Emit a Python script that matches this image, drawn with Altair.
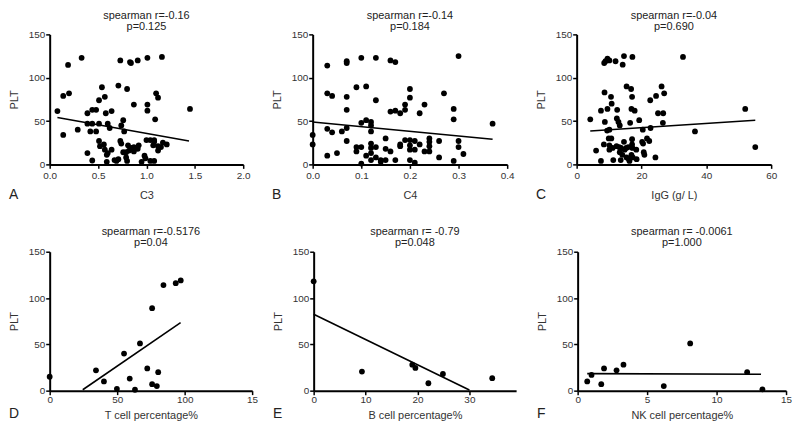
import altair as alt
import pandas as pd

FONT = "Liberation Sans"

# ---------------- data ----------------
a_x = [0.08, 0.19, 0.14, 0.20, 0.33, 0.14, 0.29, 0.39, 0.44, 0.48, 0.39, 0.44, 0.51, 0.42, 0.48,
       0.39, 0.44, 0.51, 0.54, 0.57, 0.58, 0.64, 0.60, 0.62, 0.51, 0.52, 0.56, 0.57, 0.59, 0.60,
       0.64, 0.59, 0.67, 0.69, 0.71, 0.71, 0.73, 0.80, 0.76, 0.74, 0.77, 0.73, 0.74, 0.76, 0.79,
       0.81, 0.82, 0.79, 0.80, 0.83, 0.84, 0.91, 0.87, 0.85, 0.87, 0.87, 0.91, 0.92, 0.95, 0.98,
       0.99, 1.01, 1.01, 1.01, 1.00, 1.04, 1.08, 1.07, 1.08, 1.04, 1.08, 1.09, 1.10, 1.12, 1.12,
       1.12, 1.15, 1.17, 1.21, 1.16, 1.45]
a_y = [61.5, 114.7, 79, 82, 123, 34, 40, 59, 63, 63, 47, 47, 47, 38, 38,
       13, 4.5, 74, 89, 78, 59, 61.5, 47, 42, 27, 21, 23, 17, 11, 13,
       17, 3, 5, 4, 6, 91, 120, 87, 51, 45, 38, 27, 24, 14, 14,
       22, 16, 8, 4, 118, 117, 120, 69, 19, 20, 15, 18, 22, 3, 10,
       7, 123, 69, 62, 28, 28, 28, 22, 26, 4, 4, 52, 82, 77, 16,
       21, 20, 25, 23, 124, 64]
a_fit_x = [0.08, 1.44]
a_fit_y = [54, 27]

b_x = [0.0, 0.0, 0.03, 0.03, 0.04, 0.03, 0.04, 0.03, 0.05, 0.06, 0.07, 0.07, 0.07, 0.07, 0.07,
       0.07, 0.09, 0.11, 0.10, 0.13, 0.13, 0.10, 0.11, 0.12, 0.12, 0.12, 0.09, 0.10, 0.09, 0.11,
       0.10, 0.12, 0.12, 0.12, 0.13, 0.12, 0.13, 0.14, 0.15, 0.14, 0.15, 0.15, 0.16, 0.17, 0.16,
       0.17, 0.18, 0.19, 0.19, 0.16, 0.17, 0.18, 0.18, 0.19, 0.20, 0.20, 0.20, 0.20, 0.20, 0.21,
       0.21, 0.20, 0.21, 0.22, 0.23, 0.22, 0.23, 0.24, 0.24, 0.24, 0.24, 0.26, 0.26, 0.27, 0.29,
       0.29, 0.29, 0.30, 0.30, 0.30, 0.31, 0.37]
b_y = [34, 23, 114, 82, 79, 41, 37, 10, 13, 38, 119, 117, 78, 63, 42,
       27, 89, 90, 123, 123, 74, 48, 51, 49, 45, 38, 20, 20, 15, 10,
       1, 24, 19, 13, 20, 5, 8, 5, 5, 3, 30, 18, 120, 118, 61,
       62, 59, 63, 69, 15, 5, 23, 21, 28, 28, 87, 77, 22, 17, 27,
       17, 5, 2, 59, 69, 23, 15, 30, 26, 21, 15, 27, 8, 82, 64,
       52, 4, 125, 27, 20, 12, 47]
b_fit_x = [0.0, 0.37]
b_fit_y = [49, 29]

c_x = [4.2, 6.0, 7.5, 7.5, 8.4, 8.5, 8.6, 8.7, 8.9, 9.5, 10.1, 9.5, 9.4, 10.1, 10.6,
       10.8, 9.9, 10.7, 10.1, 10.1, 11.1, 11.3, 12.0, 12.5, 12.4, 12.9, 13.3, 12.3, 13.1, 13.3,
       13.7, 13.6, 14.2, 14.6, 14.6, 14.8, 14.1, 15.4, 15.3, 15.4, 15.9, 16.1, 16.5, 16.8, 17.1,
       16.9, 17.2, 17.9, 17.1, 17.1, 17.2, 16.9, 17.3, 16.3, 18.4, 18.5, 19.3, 20.2, 20.5, 20.7,
       20.9, 20.4, 21.7, 22.4, 22.7, 22.8, 24.3, 24.5, 25.1, 26.2, 26.7, 26.6, 27.0, 32.8, 36.5,
       52.0, 55.1]
c_y = [52, 16, 4, 62, 23, 117, 83, 49, 119, 122, 120, 64, 39, 40, 78,
       70, 30, 30, 22, 17, 19, 5, 119, 63, 53, 49, 45, 21, 20, 14,
       19, 5, 115, 125, 26, 17, 11, 90, 19, 8, 20, 6, 48, 87, 78,
       64, 124, 62, 29, 23, 19, 11, 8, 4, 17, 6, 51, 26, 24, 14,
       11, 40, 30, 27, 74, 42, 8, 79, 59, 90, 59, 48, 82, 124, 38,
       64, 20]
c_fit_x = [4.2, 55.1]
c_fit_y = [38.6, 51]

d_x = [0, 34.3, 40.2, 49.8, 55.1, 59.3, 63.2, 66.9, 72.3, 75.9, 75.9, 79.4, 80.4, 84.3, 93.4, 97.1]
d_y = [15, 22, 10, 2, 40, 13, 1, 51, 24, 89, 7, 5, 20, 114, 116, 119]
d_fit_x = [24.5, 97]
d_fit_y = [1, 73.5]

e_x = [0, 9.3, 19.0, 19.6, 22.1, 24.9, 34.4]
e_y = [118, 20.6, 28, 24.5, 8, 18, 13.5]
e_fit_x = [0, 30]
e_fit_y = [82.5, 0.7]

f_x = [0.69, 1.0, 1.9, 1.7, 2.8, 3.3, 6.2, 8.1, 12.2, 13.3]
f_y = [10, 17, 24, 7, 22, 28, 5, 51, 20, 1.4]
f_fit_x = [0.69, 13.2]
f_fit_y = [18.4, 17.7]

y_ticks = [0, 50, 100, 150]

# ---------------- panels ----------------
ROW = {
    1: dict(height=131, line_h=12, t_off=-3, lab_pad=2, tit_pad=9, letter_off=35),
    2: dict(height=140, line_h=10.5, t_off=-1, lab_pad=0, tit_pad=5, letter_off=28),
}


def panel(letter, xs, ys, fx, fy, xtitle, r_text, p_text, domain, ticks, fmt, width, row,
          label_expr=None):
    st = ROW[row]
    h = st["height"]
    pts = pd.DataFrame({"x": xs, "y": ys})
    fit = pd.DataFrame({"x": fx, "y": fy})
    axis_kw = dict(values=ticks, format=fmt, title=xtitle, labelPadding=st["lab_pad"],
                   titlePadding=st["tit_pad"], labelFlush=False, labelOverlap=False)
    if label_expr:
        axis_kw["labelExpr"] = label_expr
    xenc = alt.X("x:Q", scale=alt.Scale(domain=domain, nice=False, zero=False),
                 axis=alt.Axis(**axis_kw))
    yenc = alt.Y("y:Q", scale=alt.Scale(domain=[0, 150], nice=False),
                 axis=alt.Axis(values=y_ticks, title="PLT", titlePadding=9, labelPadding=1))
    points = alt.Chart(pts).mark_circle(size=34, color="black", opacity=1).encode(x=xenc, y=yenc)
    line = alt.Chart(fit).mark_line(color="black", strokeWidth=1.6).encode(x=xenc, y=yenc)
    lab = alt.Chart(pd.DataFrame({"t": [letter]})).mark_text(
        align="left", baseline="alphabetic", fontSize=14, font=FONT, color="#222"
    ).encode(x=alt.value(-41), y=alt.value(h + st["letter_off"]), text="t:N")
    return alt.layer(points, line, lab).properties(
        width=width, height=h,
        title=alt.TitleParams(text=[r_text, p_text], fontSize=11, font=FONT, fontWeight="normal",
                              anchor="middle", frame="group", offset=st["t_off"],
                              lineHeight=st["line_h"], color="#222"),
    )


pA = panel("A", a_x, a_y, a_fit_x, a_fit_y, "C3", "spearman r=-0.16", "p=0.125",
           [0, 2], [0, 0.5, 1.0, 1.5, 2.0], ".1f", 195, 1)
pB = panel("B", b_x, b_y, b_fit_x, b_fit_y, "C4", "spearman r=-0.14", "p=0.184",
           [0, 0.4], [0, 0.1, 0.2, 0.3, 0.4], ".1f", 196, 1)
pC = panel("C", c_x, c_y, c_fit_x, c_fit_y, "IgG (g/ L)", "spearman r=-0.04", "p=0.690",
           [0, 60], [0, 20, 40, 60], "d", 196, 1)
pD = panel("D", d_x, d_y, d_fit_x, d_fit_y, "T cell percentage%", "spearman r=-0.5176", "p=0.04",
           [0, 150], [0, 50, 100, 150], "d", 204, 2,
           label_expr="datum.value == 150 ? '15' : datum.label")
pE = panel("E", e_x, e_y, e_fit_x, e_fit_y, "B cell percentage%", "spearman r= -0.79", "p=0.048",
           [0, 39], [0, 10, 20, 30], "d", 204, 2)
pF = panel("F", f_x, f_y, f_fit_x, f_fit_y, "NK cell percentage%", "spearman r= -0.0061", "p=1.000",
           [0, 15], [0, 5, 10, 15], "d", 210, 2)

row1 = alt.hconcat(pA, pB, pC, spacing=70, bounds="flush")
row2 = alt.hconcat(pD, pE, pF, spacing=62, bounds="flush")

# nested flush rows report no height, so the row spacing covers row 1's plot height plus the gap
chart = alt.vconcat(row1, row2, spacing=ROW[1]["height"] + 88, bounds="flush").properties(
    padding=0, background="white"
).configure_axis(
    domainColor="black", domainWidth=2, tickColor="black", tickWidth=1.5, tickSize=4,
    grid=False, labelFont=FONT, labelFontSize=10, labelColor="#333",
    titleFont=FONT, titleFontSize=11, titleFontWeight="normal", titleColor="#333",
).configure_view(stroke=None)

chart.save("out.html", embed_options={"renderer": "svg", "actions": False})
